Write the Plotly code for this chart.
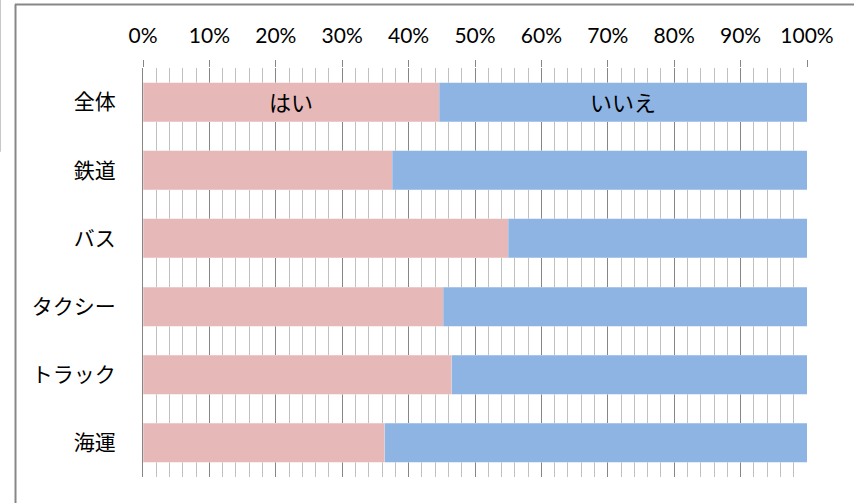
import plotly.graph_objects as go

categories = ["全体", "鉄道", "バス", "タクシー", "トラック", "海運"]
yes_values = [0.446, 0.375, 0.550, 0.452, 0.465, 0.364]
no_values = [round(1 - v, 3) for v in yes_values]
yes_text = ["はい", "", "", "", "", ""]
no_text = ["いいえ", "", "", "", "", ""]
tick_vals = [i / 10 for i in range(11)]
tick_text = [f"{i * 10}%" for i in range(11)]

FONT = "Lato, 'Noto Sans CJK JP', sans-serif"

fig = go.Figure()
fig.add_trace(go.Bar(
    y=categories, x=yes_values, orientation="h", name="はい",
    marker=dict(color="#E6B8B7", line=dict(color="#F2DCDB", width=0.5)),
    text=yes_text, textposition="inside", insidetextanchor="middle",
    textfont=dict(color="black", size=22, family=FONT), constraintext="none",
))
fig.add_trace(go.Bar(
    y=categories, x=no_values, orientation="h", name="いいえ",
    marker=dict(color="#8EB4E3", line=dict(color="#C6D9F1", width=0.5)),
    text=no_text, textposition="inside", insidetextanchor="middle",
    textfont=dict(color="black", size=22, family=FONT), constraintext="none",
))

fig.update_layout(
    barmode="stack",
    bargap=0.43,
    width=854, height=503,
    margin=dict(l=143, r=47, t=68, b=26),
    paper_bgcolor="white", plot_bgcolor="white",
    showlegend=False,
    font=dict(family=FONT, size=21, color="black"),
    xaxis=dict(
        side="top", range=[0, 1],
        tickvals=tick_vals, ticktext=tick_text,
        showgrid=True, gridcolor="#868686", gridwidth=1.3,
        ticks="outside", ticklen=7, tickcolor="#868686", tickwidth=1.3,
        ticklabelstandoff=9,
        minor=dict(dtick=0.02, tick0=0, showgrid=True, gridcolor="#C0C0C0", gridwidth=1.2, ticks=""),
        showline=False, zeroline=False,
        tickfont=dict(size=21, family=FONT),
        fixedrange=True,
    ),
    yaxis=dict(
        autorange="reversed",
        showline=True, linecolor="#868686", linewidth=1.3,
        showgrid=False, zeroline=False, ticks="",
        ticklabelstandoff=22,
        tickfont=dict(size=21, family=FONT),
        fixedrange=True,
    ),
    shapes=[
        # outer chart frame (left and top edges visible)
        dict(type="line", xref="paper", yref="paper", x0=-0.192, x1=-0.192, y0=1.155, y1=-0.2,
             line=dict(color="#878787", width=2)),
        dict(type="line", xref="paper", yref="paper", x0=-0.193, x1=1.2, y0=1.155, y1=1.155,
             line=dict(color="#878787", width=2)),
        # faint stray line at far left
        dict(type="line", xref="paper", yref="paper", x0=-0.215, x1=-0.215, y0=1.17, y1=0.795,
             line=dict(color="#C8C8C8", width=1.5)),
    ],
)

fig.write_html("out.html", config={"displayModeBar": False},
               post_script="document.body.style.margin='0';")
